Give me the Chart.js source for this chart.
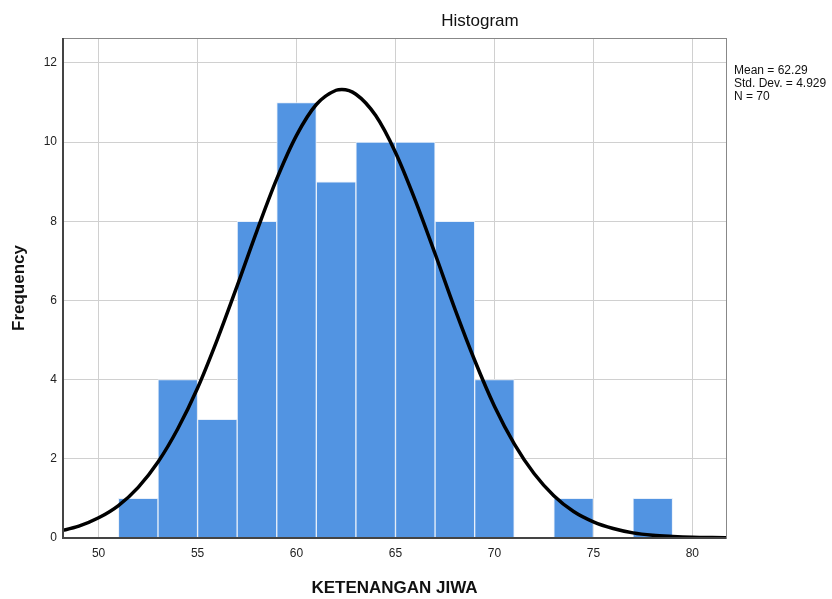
<!DOCTYPE html>
<html>
<head>
<meta charset="utf-8">
<script src="https://cdn.jsdelivr.net/npm/chart.js@4.4.1/dist/chart.umd.min.js"></script>
<style>
  html, body { margin: 0; padding: 0; background: #fff; }
  #wrap { width: 832px; height: 599px; position: relative; }
</style>
</head>
<body>
<div id="wrap"><canvas id="histChart"></canvas></div>
<script>
// histogram bins (centre of each 2-unit bin) and counts
const binCenters = [52, 54, 56, 58, 60, 62, 64, 66, 68, 70, 72, 74, 76, 78];
const binCounts = [1, 4, 3, 8, 11, 9, 10, 10, 8, 4, 0, 1, 0, 1];

// fitted normal curve
const curveX = [48, 49, 50, 51, 52, 53, 54, 55, 56, 57, 58, 59, 60, 61, 62, 62.29, 63, 64, 65, 66, 67, 68, 69, 70, 71, 72, 73, 74, 75, 76, 77, 78, 79, 80, 81, 82];
const curveY = [0.17, 0.30, 0.51, 0.82, 1.28, 1.92, 2.76, 3.79, 5.02, 6.37, 7.76, 9.07, 10.17, 10.95, 11.31, 11.33, 11.21, 10.67, 9.74, 8.53, 7.18, 5.79, 4.49, 3.33, 2.38, 1.63, 1.07, 0.67, 0.41, 0.24, 0.13, 0.07, 0.04, 0.02, 0.01, 0.004];

const xTicks = [50, 55, 60, 65, 70, 75, 80];
const yTicks = [0, 2, 4, 6, 8, 10, 12];
const statsText = ['Mean = 62.29', 'Std. Dev. = 4.929', 'N = 70'];

const font = "'Liberation Sans', Arial, sans-serif";

const extras = {
  id: 'extras',
  afterDraw(chart) {
    const ctx = chart.ctx;
    const a = chart.chartArea;
    ctx.save();
    ctx.strokeStyle = '#888';
    ctx.lineWidth = 1;
    ctx.strokeRect(a.left + 0.5, a.top + 0.5, a.right - a.left, a.bottom - a.top);
    ctx.strokeStyle = '#444';
    ctx.lineWidth = 2;
    ctx.beginPath();
    ctx.moveTo(a.left, a.top);
    ctx.lineTo(a.left, a.bottom);
    ctx.lineTo(a.right, a.bottom);
    ctx.stroke();

    ctx.fillStyle = '#111';
    ctx.font = '17px ' + font;
    ctx.textAlign = 'center';
    ctx.textBaseline = 'middle';
    ctx.fillText('Histogram', 480, 21);

    ctx.font = '12px ' + font;
    ctx.textAlign = 'left';
    statsText.forEach((t, i) => ctx.fillText(t, 734, 71 + i * 13));
    ctx.restore();
  }
};

new Chart(document.getElementById('histChart').getContext('2d'), {
  data: {
    datasets: [{
      type: 'line',
      data: curveX.map((x, i) => ({ x: x, y: curveY[i] })),
      borderColor: '#000',
      borderWidth: 3.5,
      pointRadius: 0,
      cubicInterpolationMode: 'monotone',
      fill: false
    }, {
      type: 'bar',
      data: binCenters.map((x, i) => ({ x: x, y: binCounts[i] })),
      backgroundColor: '#5294e2',
      borderColor: '#e8f0fa',
      borderWidth: 1,
      barPercentage: 1,
      categoryPercentage: 1
    }]
  },
  options: {
    responsive: true,
    maintainAspectRatio: false,
    animation: false,
    layout: { padding: { left: 0, right: 106, top: 38, bottom: 0 } },
    plugins: { legend: { display: false }, tooltip: { enabled: false } },
    scales: {
      x: {
        type: 'linear',
        min: 48.2,
        max: 81.7,
        offset: false,
        afterBuildTicks: s => { s.ticks = xTicks.map(v => ({ value: v })); },
        afterFit: s => { s.height = 61; },
        grid: { color: '#d0d0d0', drawTicks: false, offset: false },
        border: { display: false },
        ticks: { color: '#222', font: { family: font, size: 12 }, padding: 8 },
        title: {
          display: true, text: 'KETENANGAN JIWA', color: '#111',
          font: { family: font, size: 17, weight: 'bold' }, padding: { top: 10, bottom: 0 }
        }
      },
      y: {
        min: 0,
        max: 12.63,
        afterBuildTicks: s => { s.ticks = yTicks.map(v => ({ value: v })); },
        afterFit: s => { s.width = 63; },
        grid: { color: '#d0d0d0', drawTicks: false },
        border: { display: false },
        ticks: { color: '#222', font: { family: font, size: 12 }, padding: 6 },
        title: {
          display: true, text: 'Frequency', color: '#111',
          font: { family: font, size: 17, weight: 'bold' }, padding: { top: 9, bottom: 0 }
        }
      }
    }
  },
  plugins: [extras]
});
</script>
</body>
</html>
